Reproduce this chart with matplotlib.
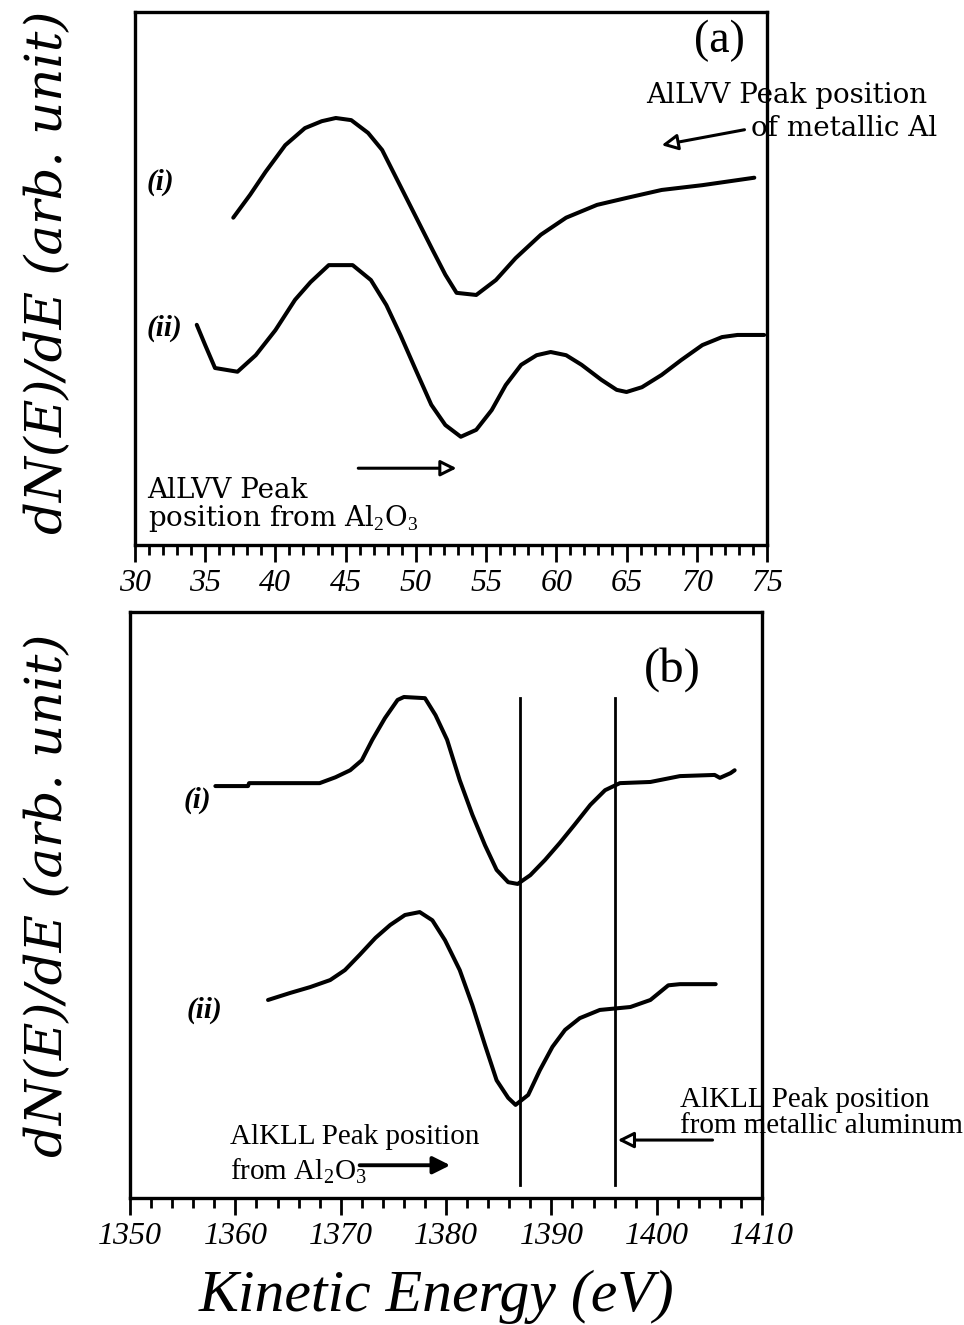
import matplotlib
matplotlib.use('Agg')
import matplotlib.pyplot as plt
from matplotlib.ticker import MultipleLocator

plt.rcParams['font.family'] = ['Liberation Serif', 'DejaVu Serif']
plt.rcParams['mathtext.fontset'] = 'custom'
plt.rcParams['mathtext.rm'] = 'Liberation Serif'

# panel (a): AlLVV, energy in eV, dN/dE in arb. units
lvv_e_i = [37.0, 38.2, 39.3, 40.7, 42.1, 43.3, 44.3, 45.4, 46.6, 47.6, 48.5, 49.4,
           50.3, 51.2, 52.1, 52.9, 54.3, 55.7, 57.1, 58.9, 60.7, 62.9, 65.0, 67.5,
           70.4, 74.1]
lvv_i = [61.4, 65.7, 70.0, 75.0, 78.2, 79.5, 80.1, 79.7, 77.3, 74.1, 69.4, 64.7,
         60.0, 55.3, 50.7, 47.3, 46.9, 49.7, 53.8, 58.2, 61.4, 63.8, 65.1, 66.6,
         67.5, 68.9]
lvv_e_ii = [34.4, 35.0, 35.7, 37.3, 38.6, 40.0, 41.4, 42.5, 43.8, 45.5, 46.8, 47.9,
            48.9, 50.0, 51.1, 52.1, 53.2, 54.3, 55.4, 56.4, 57.5, 58.6, 59.6, 60.7,
            61.8, 63.2, 64.3, 65.0, 66.1, 67.5, 68.9, 70.4, 71.8, 72.9, 74.8]
lvv_ii = [41.3, 37.5, 33.2, 32.5, 35.6, 40.3, 46.0, 49.3, 52.5, 52.5, 49.7, 45.0,
          39.4, 32.8, 26.3, 22.5, 20.3, 21.6, 25.3, 30.0, 33.8, 35.6, 36.2, 35.6,
          33.8, 31.0, 29.1, 28.7, 29.6, 31.9, 34.7, 37.5, 39.0, 39.4, 39.4]

# panel (b): AlKLL
kll_e_i = [1358.1, 1361.2, 1361.3, 1368.0, 1369.5, 1370.9, 1372.0, 1373.0, 1374.2,
           1375.4, 1376.0, 1378.0, 1379.0, 1380.1, 1381.3, 1382.5, 1383.7, 1384.8,
           1385.9, 1386.8, 1388.0, 1389.4, 1390.8, 1392.2, 1393.7, 1395.1, 1396.5,
           1399.4, 1402.2, 1405.5, 1406.0, 1407.0, 1407.4]
kll_i = [70.3, 70.3, 70.8, 70.8, 71.8, 73.0, 74.7, 78.2, 81.9, 85.0, 85.5, 85.3,
         82.4, 78.2, 71.3, 65.4, 60.2, 56.0, 53.9, 53.6, 55.1, 57.7, 60.6, 63.7,
         67.1, 69.6, 70.8, 71.0, 72.0, 72.2, 71.7, 72.5, 73.0]
kll_e_ii = [1363.1, 1365.2, 1367.1, 1369.0, 1370.4, 1371.8, 1373.3, 1374.7, 1376.1,
            1377.5, 1378.7, 1379.9, 1381.3, 1382.5, 1383.7, 1384.8, 1385.9, 1386.6,
            1387.8, 1388.9, 1390.1, 1391.3, 1392.7, 1394.6, 1397.5, 1399.4, 1401.1,
            1402.2, 1405.6]
kll_ii = [33.8, 35.0, 36.0, 37.2, 38.9, 41.5, 44.4, 46.6, 48.3, 48.8, 47.4, 44.0,
          38.9, 32.9, 26.1, 20.1, 17.1, 15.9, 17.6, 21.8, 25.8, 28.7, 30.7, 32.1,
          32.6, 33.8, 36.3, 36.5, 36.5]
kll_marks = [1387.0, 1396.0]

fig = plt.figure(figsize=(9.64, 13.25), dpi=100)
ax1 = fig.add_axes([0.140, 0.5887, 0.6556, 0.4023])
ax2 = fig.add_axes([0.1349, 0.0958, 0.6556, 0.4423])

def style(ax, x0, x1, major, minor, fs):
    ax.set_xlim(x0, x1)
    ax.set_ylim(0, 100)
    ax.xaxis.set_major_locator(MultipleLocator(major))
    ax.xaxis.set_minor_locator(MultipleLocator(minor))
    ax.tick_params(axis='x', which='major', direction='out', length=12, width=2,
                   labelsize=fs, pad=5)
    ax.tick_params(axis='x', which='minor', direction='out', length=7, width=2)
    ax.set_yticks([])
    for lab in ax.get_xticklabels():
        lab.set_fontstyle('italic')
    for s in ax.spines.values():
        s.set_linewidth(2.4)

lw = 2.9
note_a = dict(fontsize=20, family=['DejaVu Serif'], va='center', clip_on=False)
note_b = dict(fontsize=21, va='center', clip_on=False)
tag = dict(fontsize=21, style='italic', weight='bold', ha='center', va='center')
open_head = dict(arrowstyle='-|>', fc='white', ec='black', lw=2.2,
                 mutation_scale=24, shrinkA=0, shrinkB=0)

ax1.plot(lvv_e_i, lvv_i, color='black', lw=lw, solid_capstyle='round')
ax1.plot(lvv_e_ii, lvv_ii, color='black', lw=lw, solid_capstyle='round')
style(ax1, 30, 75, 5, 1, 23)

ax1.text(71.6, 94.6, '(a)', fontsize=33, ha='center', va='center')
ax1.text(66.4, 84.4, 'AlLVV Peak position', ha='left', **note_a)
ax1.text(87.1, 78.2, 'of metallic Al', ha='right', **note_a)
ax1.annotate('', xy=(67.5, 75.0), xytext=(73.4, 77.9), arrowprops=open_head)
ax1.annotate('', xy=(52.9, 14.4), xytext=(45.9, 14.4), arrowprops=open_head)
ax1.text(30.9, 10.3, 'AlLVV Peak', ha='left', **note_a)
ax1.text(30.9, 4.9, r'position from Al$_2$O$_3$', ha='left', **note_a)
ax1.text(31.8, 68.1, '(i)', **tag)
ax1.text(32.1, 40.7, '(ii)', **tag)

ax2.plot(kll_e_i, kll_i, color='black', lw=lw, solid_capstyle='round')
ax2.plot(kll_e_ii, kll_ii, color='black', lw=lw, solid_capstyle='round')
for xm in kll_marks:
    ax2.plot([xm, xm], [2.2, 85.3], color='black', lw=2)
style(ax2, 1350, 1410, 10, 2, 23)

ax2.text(1401.5, 90.1, '(b)', fontsize=35, ha='center', va='center')
ax2.text(1356.4, 67.9, '(i)', **tag)
ax2.text(1357.1, 32.1, '(ii)', **tag)
ax2.text(1402.2, 16.7, 'AlKLL Peak position', ha='left', **note_b)
ax2.text(1402.2, 12.3, 'from metallic aluminum', ha='left', **note_b)
ax2.annotate('', xy=(1396.3, 9.9), xytext=(1405.3, 9.9), arrowprops=open_head)
ax2.text(1359.5, 10.4, 'AlKLL Peak position', ha='left', **note_b)
ax2.text(1359.5, 4.6, r'from Al$_2$O$_3$', ha='left', **note_b)
ax2.annotate('', xy=(1380.4, 5.6), xytext=(1371.8, 5.6),
             arrowprops=dict(arrowstyle='-|>', fc='black', ec='black', lw=2.8,
                             mutation_scale=26, shrinkA=0, shrinkB=0))

ylab = 'dN(E)/dE (arb. unit)'
for yc in (272, 895):
    fig.text(48 / 964, 1 - yc / 1325, ylab, rotation=90, fontsize=37,
             style='italic', family=['DejaVu Serif'], ha='center', va='center')
fig.text(437 / 964, 1 - 1297 / 1325, 'Kinetic Energy (eV)', fontsize=43,
         style='italic', ha='center', va='center')

fig.savefig('out.png', dpi=100)
